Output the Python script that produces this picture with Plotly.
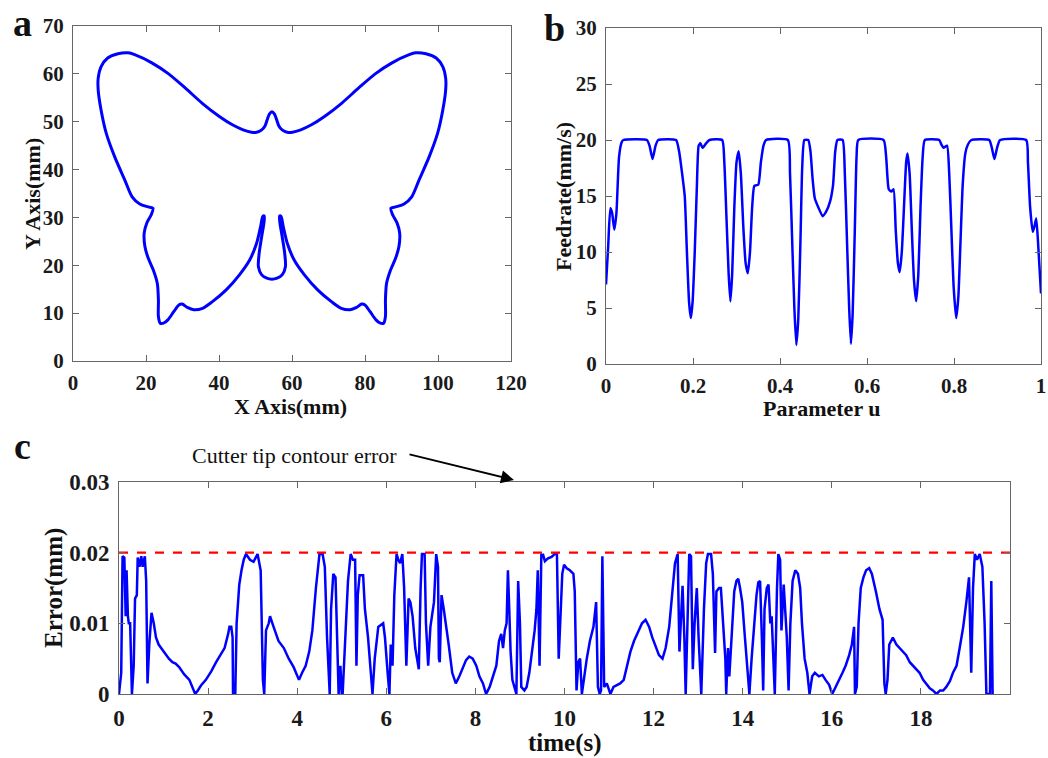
import plotly.graph_objects as go

# ---------------- data ----------------
# (a) butterfly contour, mm
bx = [54.5, 53.8, 53.2, 52.6, 51.7, 50.3, 48.9, 46.6, 43.8, 40.1, 35.5, 30.8, 26.2, 21.6, 16.9, 15.1,
      12.3, 9.5, 7.7, 6.9, 6.9, 7.7, 9.1, 11.4, 14.2, 16.2, 18.3, 20.6, 21.9, 21.4, 20.2, 19.5, 19.7,
      20.6, 22.0, 23.1, 23.4, 23.4, 23.9, 24.8, 26.0, 27.6, 29.0, 29.9, 31.3, 33.1, 35.5, 38.2, 41.9,
      45.6, 48.4, 50.3, 51.4, 52.0, 52.4, 52.3, 51.7, 51.0, 50.8, 51.7, 53.1, 54.5,
      55.9, 57.3, 58.2, 58.0, 57.3, 56.7, 56.6, 57.0, 57.6, 58.7, 60.6, 63.4, 67.1, 70.8, 73.5, 75.9,
      77.7, 79.1, 80.0, 81.4, 83.0, 84.2, 85.1, 85.6, 85.6, 85.9, 87.0, 88.4, 89.3, 89.5, 88.8, 87.6,
      87.1, 88.4, 90.7, 92.8, 94.8, 97.6, 99.9, 101.3, 102.1, 102.1, 101.3, 99.5, 96.7, 93.9, 92.1,
      87.4, 82.8, 78.2, 73.5, 68.9, 65.2, 62.4, 60.1, 58.7, 57.3, 56.4, 55.8, 55.2, 54.5]
by = [52.1, 51.6, 50.4, 49.1, 48.3, 47.8, 47.8, 48.3, 49.3, 51.1, 53.8, 57.0, 60.0, 62.3, 64.0, 64.4,
      64.2, 63.3, 61.5, 59.1, 56.6, 52.4, 47.6, 42.7, 37.8, 34.3, 32.8, 32.2, 31.9, 30.5, 28.8, 26.7, 23.9,
      21.5, 19.0, 16.2, 12.7, 9.3, 7.9, 7.9, 8.6, 10.3, 11.7, 11.9, 11.2, 10.7, 11.0, 12.4, 14.8,
      18.0, 21.1, 24.6, 28.1, 30.2, 30.3, 28.8, 26.0, 22.5, 19.7, 18.0, 17.3, 17.1,
      17.3, 18.0, 19.7, 22.5, 26.0, 28.8, 30.3, 30.2, 28.1, 24.6, 21.1, 18.0, 14.8, 12.4, 11.0, 10.7,
      11.2, 11.9, 11.7, 10.3, 8.6, 7.9, 7.9, 9.3, 12.7, 16.2, 19.0, 21.5, 23.9, 26.7, 28.8, 30.5,
      31.9, 32.2, 32.8, 34.3, 37.8, 42.7, 47.6, 52.4, 56.6, 59.1, 61.5, 63.3, 64.2, 64.4, 64.0,
      62.3, 60.0, 57.0, 53.8, 51.1, 49.3, 48.3, 47.8, 47.8, 48.3, 49.1, 50.4, 51.6, 52.1]

# (b) feedrate vs parameter u
u_vals = [0.000, 0.005, 0.010, 0.014, 0.019, 0.024, 0.030, 0.036, 0.040, 0.094, 0.100, 0.107, 0.114,
          0.120, 0.161, 0.168, 0.175, 0.181, 0.186, 0.191, 0.195, 0.199, 0.204, 0.209, 0.213, 0.217,
          0.222, 0.230, 0.238, 0.267, 0.272, 0.277, 0.282, 0.286, 0.290, 0.295, 0.300, 0.305, 0.310,
          0.316, 0.321, 0.326, 0.331, 0.336, 0.341, 0.350, 0.356, 0.362, 0.368, 0.418, 0.423, 0.428,
          0.433, 0.4375, 0.442, 0.447, 0.451, 0.456, 0.465, 0.470, 0.475, 0.480, 0.488, 0.498, 0.506,
          0.515, 0.522, 0.527, 0.532, 0.544, 0.549, 0.554, 0.559, 0.563, 0.567, 0.572, 0.576, 0.580,
          0.638, 0.644, 0.650, 0.656, 0.661, 0.666, 0.671, 0.675, 0.680, 0.685, 0.690, 0.693, 0.698,
          0.703, 0.708, 0.713, 0.718, 0.723, 0.728, 0.733, 0.766, 0.771, 0.776, 0.784, 0.789, 0.794,
          0.799, 0.805, 0.810, 0.815, 0.820, 0.826, 0.832, 0.840, 0.881, 0.887, 0.893, 0.899, 0.906,
          0.966, 0.970, 0.975, 0.981, 0.985, 0.989, 0.993, 1.000]
feed = [7.1, 10.5, 13.9, 13.5, 12.0, 13.5, 18.5, 19.8, 20.0, 20.0, 19.5, 18.3, 19.5,
        20.0, 20.0, 19.0, 17.0, 15.0, 10.0, 5.5, 4.1, 5.5, 10.0, 16.0, 19.5, 19.7,
        19.3, 19.7, 20.0, 20.0, 18.0, 13.0, 8.0, 5.6, 8.0, 14.0, 18.0, 19.0, 17.0,
        12.0, 9.0, 8.1, 10.0, 14.0, 15.9, 16.0, 18.0, 19.5, 20.0, 20.0, 17.0, 11.0,
        5.0, 1.7, 4.0, 11.0, 17.5, 20.0, 20.0, 19.0, 16.5, 14.8, 14.0, 13.2, 13.6,
        14.5, 16.0, 19.0, 20.0, 20.0, 17.0, 11.0, 5.0, 1.8, 4.5, 12.0, 18.5, 20.0,
        20.0, 18.5, 15.6, 15.4, 15.6, 12.0, 9.0, 8.2, 10.0, 14.0, 18.0, 18.8, 17.0,
        12.0, 7.5, 5.6, 8.0, 14.0, 18.5, 20.0, 20.0, 19.6, 19.3, 19.5, 17.0, 12.0,
        7.0, 4.1, 6.0, 11.0, 16.0, 18.8, 19.6, 20.0, 20.0, 19.3, 18.3, 19.3, 20.0,
        20.0, 18.0, 14.0, 11.8, 12.3, 13.0, 11.0, 6.3]

# (c) cutter tip contour error vs time
t_vals = [0.00, 0.05, 0.08, 0.12, 0.15, 0.17, 0.20, 0.22, 0.25, 0.29, 0.33, 0.36, 0.40, 0.42, 0.46, 0.50,
          0.53, 0.58, 0.61, 0.64, 0.68, 0.73, 0.78, 0.83, 0.89, 0.97, 1.05, 1.12, 1.20, 1.27, 1.35, 1.46,
          1.58, 1.65, 1.71, 1.77, 1.84, 1.95, 2.07, 2.18, 2.30, 2.37, 2.45, 2.48, 2.52, 2.55, 2.56, 2.61,
          2.64, 2.70, 2.75, 2.80, 2.85, 2.94, 3.02, 3.11, 3.18, 3.23, 3.26, 3.30, 3.36, 3.39, 3.47, 3.58,
          3.70, 3.81, 3.92, 4.04, 4.11, 4.19, 4.27, 4.34, 4.42, 4.50, 4.57, 4.62, 4.67, 4.73, 4.76, 4.81,
          4.86, 4.89, 4.93, 4.97, 5.00, 5.02, 5.08, 5.14, 5.20, 5.25, 5.30, 5.33, 5.36, 5.40, 5.48, 5.52,
          5.59, 5.67, 5.69, 5.74, 5.82, 5.93, 5.97, 6.03, 6.07, 6.10, 6.14, 6.18, 6.23, 6.27, 6.31, 6.36,
          6.40, 6.45, 6.50, 6.54, 6.59, 6.65, 6.73, 6.77, 6.80, 6.86, 6.89, 6.94, 6.99, 7.07, 7.12, 7.16,
          7.18, 7.20, 7.24, 7.29, 7.34, 7.40, 7.48, 7.56, 7.64, 7.71, 7.79, 7.86, 7.94, 8.02, 8.09, 8.17,
          8.24, 8.32, 8.39, 8.47, 8.53, 8.58, 8.62, 8.66, 8.70, 8.73, 8.76, 8.79, 8.83, 8.89, 8.92, 8.96,
          9.00, 9.03, 9.10, 9.15, 9.21, 9.27, 9.33, 9.37, 9.40, 9.44, 9.48, 9.52, 9.56, 9.63, 9.71, 9.78,
          9.83, 9.87, 9.91, 9.95, 9.99, 10.05, 10.12, 10.20, 10.23, 10.27, 10.31, 10.35, 10.39, 10.44,
          10.50, 10.57, 10.65, 10.71, 10.75, 10.79, 10.82, 10.85, 10.89, 10.95, 11.03, 11.10, 11.18,
          11.25, 11.33, 11.40, 11.48, 11.56, 11.67, 11.74, 11.82, 11.90, 11.97, 12.05, 12.12, 12.20,
          12.27, 12.35, 12.42, 12.48, 12.54, 12.58, 12.61, 12.65, 12.69, 12.72, 12.76, 12.80, 12.84,
          12.88, 12.92, 12.97, 13.01, 13.07, 13.13, 13.18, 13.22, 13.29, 13.33, 13.38, 13.41, 13.47,
          13.51, 13.56, 13.61, 13.63, 13.67, 13.70, 13.76, 13.81, 13.86, 13.90, 13.94, 13.99, 14.05,
          14.11, 14.15, 14.20, 14.26, 14.31, 14.35, 14.39, 14.43, 14.46, 14.49, 14.54, 14.58, 14.62,
          14.65, 14.68, 14.72, 14.77, 14.80, 14.84, 14.87, 14.92, 14.95, 14.99, 15.03, 15.07, 15.12,
          15.18, 15.24, 15.29, 15.33, 15.39, 15.45, 15.50, 15.56, 15.62, 15.71, 15.79, 15.86, 15.94,
          16.01, 16.09, 16.16, 16.24, 16.31, 16.39, 16.45, 16.50, 16.52, 16.56, 16.60, 16.65, 16.71,
          16.77, 16.84, 16.90, 16.99, 17.07, 17.14, 17.18, 17.21, 17.25, 17.29, 17.37, 17.45, 17.52,
          17.60, 17.67, 17.75, 17.82, 17.90, 17.97, 18.05, 18.12, 18.20, 18.27, 18.35, 18.43, 18.50,
          18.57, 18.65, 18.72, 18.80, 18.87, 18.95, 19.02, 19.08, 19.13, 19.17, 19.21, 19.26, 19.32,
          19.38, 19.43, 19.47, 19.51, 19.55, 19.58, 19.61]
err = [0.0, 0.003, 0.0195, 0.0193, 0.011, 0.0175, 0.011, 0.010, 0.010, 0.0, 0.004, 0.0135, 0.014, 0.0193, 0.018, 0.0195,
       0.018, 0.0195, 0.016, 0.0015, 0.007, 0.0115, 0.010, 0.008, 0.007, 0.0063, 0.0055, 0.005, 0.0045, 0.0043, 0.0038, 0.0028,
       0.002, 0.001, 0.0, 0.0005, 0.0012, 0.002, 0.0032, 0.0045, 0.0058, 0.0065, 0.0085, 0.0095, 0.0095, 0.008, 0.0, 0.0,
       0.010, 0.0155, 0.0175, 0.019, 0.0198, 0.019, 0.0187, 0.0198, 0.0175, 0.002, 0.0, 0.009, 0.010, 0.011, 0.0095, 0.0075,
       0.0065, 0.005, 0.0038, 0.002, 0.003, 0.004, 0.006, 0.009, 0.015, 0.0198, 0.0198, 0.018, 0.008, 0.0, 0.012, 0.017,
       0.0165, 0.010, 0.0, 0.004, 0.0, 0.0, 0.009, 0.016, 0.0198, 0.019, 0.019, 0.004, 0.014, 0.0168, 0.0168, 0.012,
       0.008, 0.002, 0.0, 0.005, 0.0095, 0.010, 0.008, 0.003, 0.0, 0.007, 0.004, 0.014, 0.0198, 0.019, 0.0185, 0.0198,
       0.015, 0.004, 0.0135, 0.013, 0.011, 0.0065, 0.0035, 0.015, 0.0198, 0.0198, 0.010, 0.004, 0.0095, 0.013, 0.0198, 0.018,
       0.005, 0.0045, 0.014, 0.012, 0.010, 0.007, 0.003, 0.0015, 0.0025, 0.0035, 0.0048, 0.0053, 0.005, 0.004, 0.0025, 0.0015,
       0.0, 0.001, 0.0025, 0.004, 0.0075, 0.0085, 0.0065, 0.009, 0.010, 0.0175, 0.012, 0.006, 0.002, 0.0005, 0.0, 0.016,
       0.010, 0.001, 0.0005, 0.001, 0.003, 0.006, 0.009, 0.012, 0.0175, 0.004, 0.0197, 0.0197, 0.0188, 0.0192, 0.0194, 0.0198,
       0.0198, 0.005, 0.012, 0.017, 0.0183, 0.0178, 0.0175, 0.017, 0.0145, 0.0005, 0.0045, 0.005, 0.0, 0.0025,
       0.005, 0.0075, 0.0095, 0.013, 0.001, 0.0, 0.0005, 0.0195, 0.001, 0.0015, 0.0, 0.001, 0.0013,
       0.0015, 0.002, 0.004, 0.006, 0.0075, 0.009, 0.010, 0.0105, 0.0095, 0.008, 0.0065, 0.0055, 0.005,
       0.0065, 0.0095, 0.015, 0.0185, 0.0198, 0.006, 0.010, 0.0153, 0.008, 0.0, 0.010, 0.0198, 0.0195,
       0.0035, 0.010, 0.015, 0.008, 0.0, 0.012, 0.0185, 0.0198, 0.0198, 0.017, 0.0058, 0.0145, 0.015,
       0.015, 0.010, 0.005, 0.0, 0.0065, 0.0025, 0.010, 0.0145, 0.016, 0.0163, 0.015, 0.013, 0.008,
       0.003, 0.0, 0.005, 0.010, 0.014, 0.0158, 0.016, 0.008, 0.0005, 0.012, 0.015, 0.0155, 0.010,
       0.011, 0.005, 0.0, 0.015, 0.0198, 0.019, 0.009, 0.0155, 0.012, 0.008, 0.0005, 0.010, 0.016,
       0.0175, 0.017, 0.015, 0.010, 0.005, 0.003, 0.0, 0.0025, 0.003, 0.0025, 0.0027, 0.002, 0.0013,
       0.0, 0.001, 0.002, 0.003, 0.004, 0.0055, 0.007, 0.0095, 0.0, 0.001, 0.010, 0.015, 0.0165,
       0.0175, 0.0178, 0.017, 0.0145, 0.012, 0.0105, 0.0015, 0.0, 0.002, 0.007, 0.008, 0.007, 0.0065,
       0.006, 0.0055, 0.0045, 0.004, 0.0035, 0.003, 0.002, 0.0015, 0.0008, 0.0005, 0.0, 0.0005, 0.0005,
       0.001, 0.0018, 0.003, 0.004, 0.0065, 0.0095, 0.013, 0.0165, 0.003, 0.015, 0.0198, 0.019, 0.0198,
       0.018, 0.010, 0.0, 0.0, 0.0, 0.016, 0.0]

limit_t = [0, 20]
limit_e = [0.02, 0.02]

# ---------------- layout helpers ----------------
W, H = 1048, 758
def fx(p): return p / W
def fy(p): return 1 - p / H

BLUE = "#0000FF"
FONT = "Liberation Serif, Times New Roman, serif"
AX = "#666666"

fig = go.Figure()
fig.add_trace(go.Scatter(x=bx, y=by, mode="lines", line=dict(color=BLUE, width=3, shape="spline", smoothing=0.8),
                         xaxis="x", yaxis="y", showlegend=False))
fig.add_trace(go.Scatter(x=u_vals, y=feed, mode="lines", line=dict(color=BLUE, width=2.5, shape="spline", smoothing=0.5),
                         xaxis="x2", yaxis="y2", showlegend=False))
fig.add_trace(go.Scatter(x=t_vals, y=err, mode="lines", line=dict(color=BLUE, width=2.5),
                         xaxis="x3", yaxis="y3", showlegend=False))
fig.add_trace(go.Scatter(x=limit_t, y=limit_e, mode="lines", line=dict(color="#FF0000", width=2.4, dash="dash"),
                         xaxis="x3", yaxis="y3", showlegend=False))

def axstyle(size, **kw):
    d = dict(showline=True, linecolor=AX, linewidth=1, mirror="ticks", ticks="inside", ticklen=6,
             tickcolor=AX, tickwidth=1, showgrid=False, zeroline=False, automargin=False,
             ticklabeloverflow="allow",
             tickfont=dict(family=FONT, size=size, color="#1a1a1a", weight="bold"))
    d.update(kw)
    return d

fig.update_layout(
    width=W, height=H, margin=dict(l=0, r=0, t=0, b=0, pad=0), autosize=False,
    paper_bgcolor="white", plot_bgcolor="white",
    xaxis=axstyle(21, domain=[fx(73), fx(511)], anchor="y", range=[0, 120],
                  tickvals=[0, 20, 40, 60, 80, 100, 120], ticklabelstandoff=3),
    yaxis=axstyle(21, domain=[fy(361), fy(26)], anchor="x", range=[0, 70],
                  tickvals=[0, 10, 20, 30, 40, 50, 60, 70], ticklabelstandoff=4),
    xaxis2=axstyle(21, domain=[fx(606), fx(1041)], anchor="y2", range=[0, 1],
                   tickvals=[0, 0.2, 0.4, 0.6, 0.8, 1], ticktext=["0", "0.2", "0.4", "0.6", "0.8", "1"],
                   ticklabelstandoff=3),
    yaxis2=axstyle(21, domain=[fy(364), fy(28)], anchor="x2", range=[0, 30],
                   tickvals=[0, 5, 10, 15, 20, 25, 30], ticklabelstandoff=4),
    xaxis3=axstyle(23, domain=[fx(119), fx(1010)], anchor="y3", range=[0, 20],
                   tickvals=[0, 2, 4, 6, 8, 10, 12, 14, 16, 18], ticklabelstandoff=3),
    yaxis3=axstyle(23, domain=[fy(694), fy(482)], anchor="x3", range=[0, 0.03],
                   tickvals=[0, 0.01, 0.02, 0.03], ticktext=["0", "0.01", "0.02", "0.03"],
                   ticklabelstandoff=4),
)

def txt(x, y, s, size, bold=True, angle=0):
    fig.add_annotation(x=fx(x), y=fy(y), xref="paper", yref="paper", text=s, showarrow=False,
                       xanchor="center", yanchor="middle", textangle=angle,
                       font=dict(family=FONT, size=size, color="#111111", weight="bold" if bold else "normal"))

txt(22, 23, "a", 38)
txt(554, 28, "b", 38)
txt(22, 446, "c", 38)
txt(290, 406, "X Axis(mm)", 22)
txt(33, 194, "Y Axis(mm)", 22, angle=-90)
txt(822, 408, "Parameter u", 22)
txt(563, 197, "Feedrate(mm/s)", 22, angle=-90)
txt(54, 588, "Error(mm)", 25, angle=-90)
txt(565, 743, "time(s)", 25)
txt(294, 455, "Cutter tip contour error", 22, bold=False)

# arrow: tail at pixel (408, 454), tip at pixel (514, 480)
fig.add_annotation(x=fx(514), y=fy(480), xref="paper", yref="paper", ax=408 - 514, ay=454 - 480,
                   axref="pixel", ayref="pixel", text="", showarrow=True, arrowhead=2,
                   arrowsize=1.3, arrowwidth=2, arrowcolor="#000000")

fig.write_html("out.html", config={"displayModeBar": False},
               post_script="document.body.style.margin='0';document.body.style.overflow='hidden';")
